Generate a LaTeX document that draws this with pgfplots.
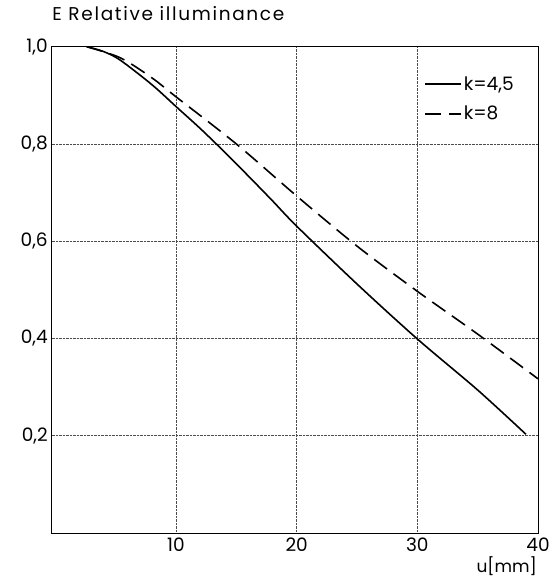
\documentclass[border=0pt]{standalone}
\usepackage{fontspec}
\setmainfont{Poppins}
\usepackage{pgfplots}
\pgfplotsset{compat=1.18}
\begin{document}
\begin{tikzpicture}
\begin{axis}[
  name=ax,
  scale only axis,
  width=486.3bp, height=486.3bp,
  xmin=-0.3, xmax=40, ymin=0, ymax=1.0,
  xtick={10,20,30,40}, ytick={0.2,0.4,0.6,0.8,1.0},
  grid=major,
  major grid style={densely dotted, line width=0.6bp, black!70},
  axis line style={line width=0.8bp, black},
  tick style={draw=none},
  /pgf/number format/assume math mode=true,
  /pgf/number format/use comma,
  yticklabel style={/pgf/number format/fixed, /pgf/number format/fixed zerofill, /pgf/number format/precision=1, xshift=-0.5bp},
  xticklabel style={/pgf/number format/fixed, /pgf/number format/precision=0, yshift=-1bp},
  ticklabel style={font=\fontsize{18.5bp}{21bp}\selectfont},
  legend style={draw=none, fill=none, at={(rel axis cs:0.765,0.942)}, anchor=north west,
    font=\fontsize{18.5bp}{21bp}\selectfont, row sep=10bp, inner sep=0pt},
  legend cell align=left,
  legend image code/.code={\draw[line width=1.9bp,#1] (0bp,0.3bp) -- (36bp,0.3bp);},
]
\addplot[black, line width=1.6bp, smooth] coordinates {
 (2.6,1.0) (4,0.99) (5.4,0.972) (8,0.922) (10,0.877) (12,0.832) (14,0.784) (16,0.734)
 (18,0.683) (20,0.631) (25,0.512) (30,0.399) (35,0.294) (39,0.203)};
\addlegendentry{k=4,5}
\addplot[black, line width=1.6bp, smooth, dash pattern=on 16bp off 8bp] coordinates {
 (2.6,1.0) (5.4,0.977) (8,0.936) (10,0.897) (15,0.80) (20,0.693) (25,0.59)
 (30,0.497) (35,0.409) (40,0.317)};
\addlegendentry{k=8}
\end{axis}
\node[anchor=base west, inner sep=0pt, font=\fontsize{18.5bp}{21bp}\selectfont\addfontfeature{LetterSpace=9}] at ([shift={(0.5bp,26bp)}]ax.north west) {E Relative illuminance};
\node[anchor=base east, inner sep=0pt, font=\fontsize{17bp}{20bp}\selectfont] at ([shift={(-1bp,-39bp)}]ax.south east) {u[mm]};
\pgfresetboundingbox
\path[use as bounding box] ([shift={(-51.7bp,-46bp)}]ax.south west) rectangle ([shift={(14bp,46.7bp)}]ax.north east);
\end{tikzpicture}
\end{document}
